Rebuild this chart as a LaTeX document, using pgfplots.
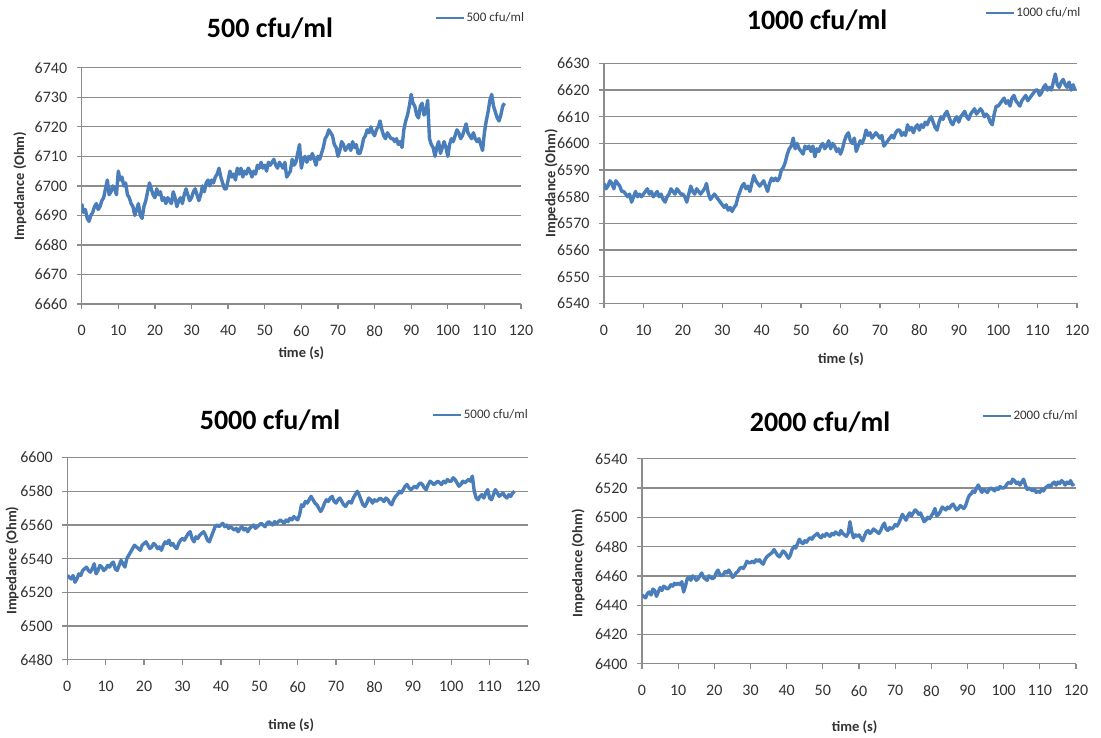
\documentclass[border=0pt]{standalone}
\usepackage{fontspec}
\setmainfont{Carlito}
\usepackage{pgfplots}
\usepackage{pgfplotstable}
\pgfplotsset{compat=1.18}
\definecolor{serblue}{HTML}{4A7EBB}
\definecolor{gridc}{HTML}{8C8C8C}
\definecolor{tickc}{HTML}{333333}

% 500 cfu/ml, samples every 0.5 s
\pgfplotstableread[header=false,row sep=\\]{
6694\\6691\\6692\\6689\\6688\\6690\\6691\\6693\\6694\\6692\\
6693\\6695\\6696\\6699\\6702\\6697\\6698\\6700\\6699\\6697\\
6705\\6702\\6703\\6700\\6701\\6697\\6696\\6694\\6693\\6690\\
6692\\6694\\6690\\6689\\6693\\6695\\6698\\6701\\6699\\6697\\
6696\\6699\\6697\\6698\\6695\\6696\\6694\\6696\\6695\\6694\\
6698\\6696\\6693\\6695\\6696\\6694\\6697\\6699\\6697\\6695\\
6696\\6698\\6699\\6697\\6695\\6697\\6700\\6698\\6701\\6702\\
6700\\6702\\6701\\6703\\6704\\6706\\6703\\6701\\6699\\6699\\
6702\\6705\\6703\\6704\\6702\\6706\\6704\\6706\\6703\\6705\\
6704\\6706\\6705\\6703\\6705\\6704\\6707\\6706\\6708\\6706\\
6707\\6705\\6708\\6707\\6708\\6709\\6707\\6706\\6708\\6707\\
6706\\6708\\6703\\6704\\6705\\6709\\6707\\6708\\6711\\6714\\
6706\\6709\\6710\\6708\\6710\\6709\\6711\\6709\\6707\\6710\\
6709\\6711\\6713\\6716\\6717\\6719\\6718\\6717\\6714\\6713\\
6710\\6712\\6715\\6714\\6712\\6713\\6714\\6712\\6715\\6713\\
6714\\6711\\6711\\6713\\6716\\6717\\6719\\6718\\6720\\6718\\
6717\\6719\\6720\\6722\\6719\\6717\\6716\\6718\\6717\\6716\\
6716\\6715\\6716\\6714\\6715\\6713\\6719\\6722\\6724\\6727\\
6731\\6728\\6727\\6724\\6723\\6727\\6728\\6724\\6725\\6729\\
6716\\6714\\6713\\6710\\6713\\6715\\6711\\6713\\6715\\6713\\
6710\\6714\\6716\\6715\\6717\\6719\\6718\\6716\\6717\\6719\\
6721\\6718\\6717\\6716\\6718\\6716\\6715\\6716\\6714\\6712\\
6718\\6722\\6725\\6729\\6731\\6727\\6725\\6723\\6722\\6724\\
6727\\6728\\
}\dA

% 1000 cfu/ml
\pgfplotstableread[header=false,row sep=\\]{
6585\\6583\\6584\\6586\\6585\\6583\\6586\\6585\\6584\\6582\\
6582\\6581\\6580\\6581\\6578\\6580\\6582\\6580\\6581\\6580\\
6581\\6582\\6583\\6581\\6582\\6580\\6581\\6582\\6580\\6581\\
6579\\6578\\6580\\6581\\6583\\6582\\6581\\6583\\6582\\6581\\
6581\\6580\\6578\\6581\\6584\\6582\\6581\\6583\\6582\\6581\\
6582\\6583\\6585\\6581\\6579\\6580\\6581\\6580\\6579\\6578\\
6577\\6576\\6577\\6575\\6576\\6574.5\\6576\\6577\\6580\\6582\\
6584\\6585\\6583\\6584\\6582\\6585\\6588\\6586\\6585\\6584\\
6585\\6586\\6584\\6582\\6585\\6587\\6586\\6587\\6586\\6587\\
6590\\6591\\6593\\6596\\6598\\6599\\6602\\6598\\6600\\6598\\
6597\\6596\\6599\\6598\\6599\\6597\\6599\\6595\\6598\\6597\\
6599\\6600\\6598\\6599\\6601\\6598\\6600\\6599\\6597\\6598\\
6596\\6598\\6601\\6603\\6604\\6601\\6600\\6602\\6597\\6599\\
6601\\6600\\6602\\6605\\6603\\6604\\6602\\6603\\6604\\6603\\
6602\\6603\\6599\\6600\\6601\\6602\\6603\\6602\\6604\\6605\\
6605\\6603\\6604\\6603\\6607\\6605\\6606\\6604\\6606\\6607\\
6605\\6607\\6606\\6608\\6607\\6609\\6610\\6608\\6606\\6605\\
6608\\6610\\6609\\6611\\6612\\6610\\6608\\6607\\6609\\6610\\
6608\\6610\\6611\\6612\\6610\\6609\\6611\\6612\\6613\\6611\\
6612\\6613\\6612\\6610\\6611\\6610\\6608\\6607\\6611\\6614\\
6614\\6615\\6616\\6617\\6615\\6616\\6614\\6617\\6618\\6616\\
6615\\6614\\6616\\6617\\6618\\6616\\6617\\6618\\6619\\6620\\
6620\\6618\\6619\\6621\\6622\\6620\\6621\\6620\\6623\\6626\\
6622\\6621\\6623\\6624\\6622\\6621\\6623\\6620\\6622\\6620\\
}\dB

% 5000 cfu/ml
\pgfplotstableread[header=false,row sep=\\]{
6530\\6529\\6528\\6530\\6526\\6528\\6531\\6530\\6533\\6534\\
6535\\6533\\6532\\6534\\6537\\6531\\6533\\6536\\6535\\6533\\
6534\\6536\\6535\\6537\\6538\\6534\\6533\\6536\\6539\\6537\\
6535\\6540\\6542\\6544\\6546\\6548\\6547\\6546\\6545\\6548\\
6549\\6550\\6548\\6546\\6547\\6549\\6548\\6546\\6547\\6545\\
6548\\6550\\6549\\6551\\6548\\6549\\6547\\6546\\6549\\6551\\
6552\\6551\\6553\\6555\\6556\\6552\\6550\\6553\\6552\\6554\\
6555\\6556\\6554\\6551\\6550\\6553\\6556\\6559\\6560\\6559\\
6560\\6561\\6559\\6560\\6558\\6559\\6558\\6557\\6558\\6556\\
6558\\6559\\6557\\6558\\6556\\6558\\6559\\6560\\6558\\6559\\
6560\\6561\\6560\\6559\\6561\\6562\\6561\\6560\\6562\\6561\\
6562\\6563\\6562\\6561\\6563\\6562\\6564\\6563\\6565\\6564\\
6563\\6566\\6572\\6571\\6574\\6573\\6575\\6577\\6575\\6573\\
6572\\6570\\6568\\6570\\6573\\6575\\6574\\6576\\6577\\6574\\
6573\\6575\\6576\\6574\\6572\\6571\\6573\\6574\\6573\\6576\\
6578\\6580\\6578\\6575\\6572\\6571\\6573\\6576\\6575\\6573\\
6575\\6574\\6575\\6576\\6575\\6574\\6576\\6575\\6573\\6572\\
6575\\6577\\6578\\6580\\6579\\6581\\6583\\6584\\6582\\6581\\
6582\\6583\\6582\\6584\\6585\\6584\\6582\\6581\\6584\\6586\\
6585\\6584\\6585\\6586\\6585\\6584\\6586\\6585\\6587\\6586\\
6586\\6588\\6587\\6585\\6583\\6584\\6586\\6585\\6586\\6587\\
6586\\6589\\6580\\6576\\6575\\6577\\6578\\6576\\6579\\6581\\
6576\\6575\\6578\\6581\\6579\\6577\\6578\\6579\\6577\\6576\\
6578\\6577\\6579\\6580\\
}\dC

% 2000 cfu/ml
\pgfplotstableread[header=false,row sep=\\]{
6447\\6446\\6445\\6448\\6449\\6447\\6451\\6450\\6446\\6449\\
6452\\6450\\6453\\6452\\6451\\6452\\6454\\6453\\6455\\6454\\
6455\\6454\\6456\\6449\\6453\\6458\\6459\\6457\\6460\\6459\\
6457\\6458\\6460\\6462\\6459\\6458\\6457\\6460\\6459\\6458\\
6459\\6462\\6464\\6461\\6460\\6461\\6463\\6462\\6464\\6462\\
6459\\6460\\6462\\6463\\6465\\6466\\6465\\6467\\6470\\6469\\
6469\\6470\\6469\\6471\\6470\\6471\\6469\\6468\\6471\\6473\\
6474\\6475\\6476\\6478\\6476\\6474\\6473\\6475\\6477\\6476\\
6474\\6472\\6474\\6478\\6480\\6479\\6482\\6485\\6483\\6482\\
6484\\6483\\6485\\6486\\6485\\6487\\6488\\6489\\6487\\6486\\
6488\\6487\\6489\\6488\\6487\\6489\\6488\\6490\\6489\\6488\\
6491\\6489\\6488\\6487\\6489\\6497\\6490\\6486\\6488\\6487\\
6488\\6486\\6484\\6487\\6490\\6491\\6489\\6490\\6492\\6491\\
6490\\6489\\6491\\6494\\6496\\6492\\6491\\6493\\6492\\6493\\
6495\\6494\\6496\\6499\\6502\\6500\\6498\\6501\\6503\\6501\\
6503\\6505\\6504\\6502\\6503\\6500\\6497\\6498\\6500\\6499\\
6501\\6503\\6506\\6501\\6502\\6504\\6507\\6506\\6505\\6507\\
6506\\6508\\6509\\6507\\6505\\6506\\6508\\6507\\6506\\6508\\
6512\\6515\\6516\\6518\\6517\\6520\\6522\\6519\\6517\\6519\\
6518\\6517\\6519\\6520\\6519\\6518\\6520\\6519\\6521\\6520\\
6520\\6521\\6523\\6524\\6523\\6526\\6525\\6523\\6524\\6522\\
6524\\6526\\6522\\6519\\6520\\6519\\6518\\6519\\6517\\6518\\
6517\\6519\\6518\\6520\\6521\\6522\\6521\\6523\\6524\\6522\\
6524\\6523\\6525\\6524\\6522\\6524\\6523\\6525\\6522\\6523\\
}\dD

\pgfplotsset{imp/.style={
  scale only axis, xmin=0, xmax=120, xtick={0,10,...,120},
  axis x line*=bottom, axis y line*=left,
  axis line style={-, gridc, line width=1.3pt},
  ymajorgrids, major grid style={gridc, line width=1.3pt},
  tick align=outside, major tick length=5pt,
  tick style={gridc, line width=1.3pt},
  /pgf/number format/assume math mode=true,
  /pgf/number format/1000 sep={},
  tick label style={font=\fontsize{16}{16}\selectfont, text=tickc},
  xticklabel style={yshift=-13pt},
  yticklabel style={xshift=-6pt},
  xlabel={time (s)}, ylabel={Impedance (Ohm)},
  label style={font=\bfseries\fontsize{14.5}{14.5}\selectfont, text=tickc},
  legend style={draw=none, fill=none, anchor=west, font=\fontsize{13}{13}\selectfont,
    text=tickc, inner sep=0pt, legend cell align=left},
  legend image code/.code={\draw[serblue, line width=1.5pt] (0pt,0pt) -- (28pt,0pt);},
},
ser/.style={draw=serblue, line width=3.4pt, line join=round, no markers}}

\begin{document}
\begin{tikzpicture}
\useasboundingbox (0,0) rectangle (1101pt,738pt);

\begin{axis}[imp, at={(81.7pt,434pt)}, anchor=south west, width=439.3pt, height=236.2pt,
  ymin=6660, ymax=6740, ytick={6660,6670,...,6740},
  xlabel style={at={(axis description cs:0.5,-0.207)}, anchor=center},
  ylabel style={at={(axis description cs:-0.1405,0.5)}, anchor=center},
  legend style={at={(axis description cs:0.804,1.211)}}]
\addplot[ser] table[x expr=\coordindex/2, y index=0] {\dA};
\addlegendentry{500 cfu/ml}
\end{axis}

\begin{axis}[imp, at={(604pt,434.5pt)}, anchor=south west, width=473pt, height=240.1pt,
  ymin=6540, ymax=6630, ytick={6540,6550,...,6630},
  xlabel style={at={(axis description cs:0.501,-0.231)}, anchor=center},
  ylabel style={at={(axis description cs:-0.112,0.5)}, anchor=center},
  legend style={at={(axis description cs:0.805,1.21)}}]
\addplot[ser] table[x expr=\coordindex/2, y index=0] {\dB};
\addlegendentry{1000 cfu/ml}
\end{axis}

\begin{axis}[imp, at={(67.3pt,78.2pt)}, anchor=south west, width=460.7pt, height=202.2pt,
  ymin=6480, ymax=6600, ytick={6480,6500,...,6600},
  xlabel style={at={(axis description cs:0.486,-0.322)}, anchor=center},
  ylabel style={at={(axis description cs:-0.12,0.49)}, anchor=center},
  legend style={at={(axis description cs:0.792,1.211)}}]
\addplot[ser] table[x expr=\coordindex/2, y index=0] {\dC};
\addlegendentry{5000 cfu/ml}
\end{axis}

\begin{axis}[imp, at={(642pt,74.2pt)}, anchor=south west, width=434pt, height=205.1pt,
  ymin=6400, ymax=6540, ytick={6400,6420,...,6540},
  xlabel style={at={(axis description cs:0.49,-0.308)}, anchor=center},
  ylabel style={at={(axis description cs:-0.147,0.49)}, anchor=center},
  legend style={at={(axis description cs:0.783,1.208)}}]
\addplot[ser] table[x expr=\coordindex/2, y index=0] {\dD};
\addlegendentry{2000 cfu/ml}
\end{axis}

\node[font=\bfseries\fontsize{28}{28}\selectfont] at (270pt,710pt) {500 cfu/ml};
\node[font=\bfseries\fontsize{28}{28}\selectfont] at (817pt,718pt) {1000 cfu/ml};
\node[font=\bfseries\fontsize{28}{28}\selectfont] at (270pt,318pt) {5000 cfu/ml};
\node[font=\bfseries\fontsize{28}{28}\selectfont] at (820pt,316pt) {2000 cfu/ml};
\end{tikzpicture}
\end{document}
